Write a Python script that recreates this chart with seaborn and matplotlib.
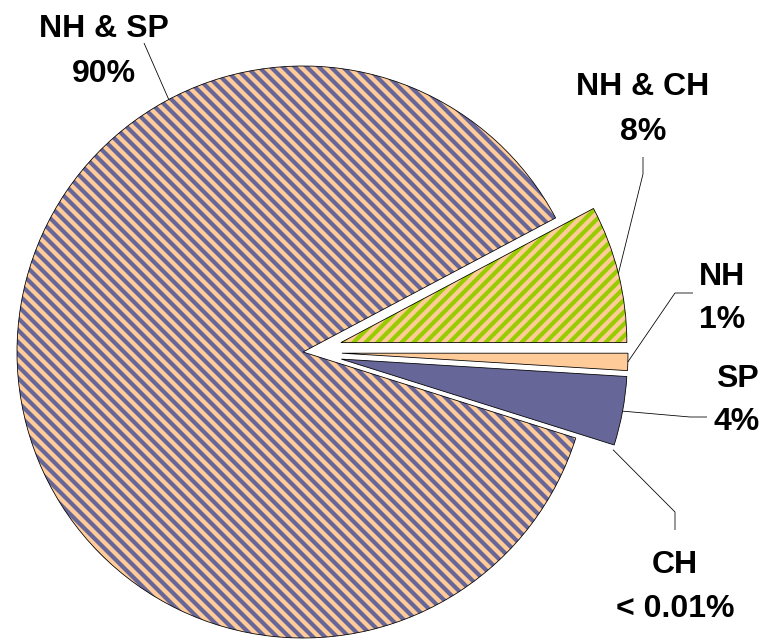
import matplotlib
matplotlib.use('Agg')
import matplotlib.pyplot as plt
import seaborn as sns
import numpy as np

# ---- data (counter-clockwise from 3 o'clock) ----
categories = ['NH & CH', 'NH & SP', 'CH', 'SP', 'NH']
values = [8, 90, 0.01, 4, 1]
value_labels = ['8%', '90%', '< 0.01%', '4%', '1%']

sns.set_theme(style='white')
plt.rcParams['font.family'] = ['Liberation Sans', 'DejaVu Sans']
plt.rcParams['hatch.linewidth'] = 4.2

DPI = 72
W, H = 767, 640
fig = plt.figure(figsize=(W / DPI, H / DPI), dpi=DPI)
ax = fig.add_axes([0, 0, 1, 1])


def py(y):
    return H - y


center = (303, py(352))
R = 286
EXP = 39  # pixels of explode offset
explode = [EXP, 0, EXP, EXP, EXP]
PEACH, NAVY, GREEN = '#FFCC99', '#666699', '#99CC00'
faces = [PEACH, PEACH, 'white', NAVY, PEACH]
hatch_colors = [GREEN, NAVY, 'none', NAVY, PEACH]
hatches = ['//', '\\\\', None, None, None]

wedges, _ = ax.pie(values, explode=explode, startangle=0, counterclock=True,
                   center=center, radius=R, colors=faces,
                   wedgeprops=dict(linewidth=0))
for w, hc, h in zip(wedges, hatch_colors, hatches):
    w.set_edgecolor(hc)
    if h:
        w.set_hatch(h)
wedges[2].set_visible(False)

outline, _ = ax.pie(values, explode=explode, startangle=0, counterclock=True,
                    center=center, radius=R,
                    wedgeprops=dict(fill=False, edgecolor='black', linewidth=0.8))
outline[2].set_visible(False)


def arc_point(w, ang):
    cx, cy = w.center
    return (cx + w.r * np.cos(np.radians(ang)), cy + w.r * np.sin(np.radians(ang)))


def mid(w):
    return (w.theta1 + w.theta2) / 2


# leader lines: (label-side points in pixel layout, angle on arc)
leaders = {
    1: ([(144, 43)], 118),
    0: ([(643, 157), (643, 174)], None),
    4: ([(693, 293), (675, 293)], None),
    3: ([(707, 417), (690, 417)], None),
    2: ([(675, 530), (675, 512)], None),
}
for i, (pts, ang) in leaders.items():
    w = outline[i]
    a = mid(w) if ang is None else ang
    end = arc_point(w, a)
    xs = [p[0] for p in pts] + [end[0]]
    ys = [py(p[1]) for p in pts] + [end[1]]
    ax.plot(xs, ys, color='black', lw=0.8, solid_capstyle='butt')

# label layout: center x, name baseline, value baseline (pixels)
label_pos = {
    1: (104, 37, 82),
    0: (643, 95, 140),
    4: (722, 285, 328),
    3: (737, 387, 430),
    2: (675, 573, 617),
}
FS = 32 * 72 / DPI
for i, (x, yn, yv) in label_pos.items():
    ax.text(x, py(yn), categories[i], ha='center', va='baseline',
            fontsize=FS, fontweight='bold', color='black')
    ax.text(x, py(yv), value_labels[i], ha='center', va='baseline',
            fontsize=FS, fontweight='bold', color='black')

ax.set_aspect('equal')
ax.set_xlim(0, W)
ax.set_ylim(0, H)
ax.axis('off')
fig.savefig('out.png', dpi=DPI, facecolor='white')
